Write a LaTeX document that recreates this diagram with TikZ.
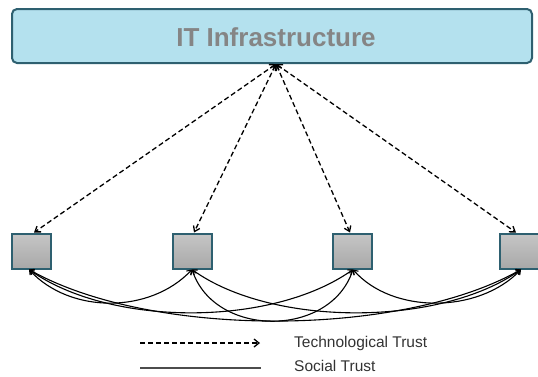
\documentclass[tikz,border=0pt]{standalone}
\usepackage{fontspec}
\setmainfont{Liberation Sans}
\usetikzlibrary{arrows.meta}
\definecolor{infrafill}{HTML}{B4E1EE}
\definecolor{tealedge}{HTML}{2E6070}
\definecolor{titlegray}{HTML}{858585}
\definecolor{legendtext}{HTML}{333333}
\tikzset{
  infra/.style={draw=tealedge, line width=2pt, fill=infrafill, rounded corners=5pt,
    minimum width=520pt, minimum height=54pt, inner sep=0pt},
  peer/.style={draw=tealedge, line width=2pt, top color=gray!45, bottom color=gray!68,
    minimum width=39pt, minimum height=35pt, inner sep=0pt},
  techtrust/.style={dashed, dash pattern=on 5pt off 3pt, line width=1.3pt,
    {Straight Barb[length=5pt,width=7pt]}-{Straight Barb[length=5pt,width=7pt]}},
  socialtrust/.style={line width=1.1pt,
    {Straight Barb[length=4pt,width=6pt]}-{Straight Barb[length=4pt,width=6pt]}},
  legtext/.style={anchor=west, text=legendtext, font=\fontsize{15.5}{17}\selectfont, inner sep=0pt}
}
\begin{document}
\begin{tikzpicture}[x=1pt,y=-1pt]
\useasboundingbox (0,0) rectangle (538,376);
\fill[white] (0,0) rectangle (538,376);
% top box
\node[infra] (top) at (272,36) {};
\node[text=titlegray, font=\bfseries\fontsize{26}{28}\selectfont] (title) at (276,37) {IT Infrastructure};
\coordinate (hub) at (276,64);
% peers
\node[peer] (b1) at (31,251) {};
\node[peer] (b2) at (192,251) {};
\node[peer] (b3) at (352,251) {};
\node[peer] (b4) at (519,251) {};
% technological trust
\draw[techtrust] (hub) -- ([xshift=3pt]b1.north);
\draw[techtrust] (hub) -- ([xshift=2pt]b2.north);
\draw[techtrust] (hub) -- ([xshift=-2pt]b3.north);
\draw[techtrust] (hub) -- ([xshift=-3pt]b4.north);
% social trust
\coordinate (s1) at ([xshift=-2pt]b1.south);
\coordinate (s2) at (b2.south);
\coordinate (s3) at ([xshift=1pt]b3.south);
\coordinate (s4) at ([xshift=2pt]b4.south);
\draw[socialtrust] (s1) .. controls (70,314) and (150,314) .. (s2);
\draw[socialtrust] (s3) .. controls (392,314) and (478,314) .. (s4);
\draw[socialtrust] (s1) .. controls (110,327) and (272,327) .. (s3);
\draw[socialtrust] (s2) .. controls (272,327) and (440,327) .. (s4);
\draw[socialtrust] (s2) .. controls (215,338) and (330,338) .. (s3);
\draw[socialtrust] (s1) .. controls (150,338) and (400,338) .. (s4);
% legend
\coordinate (la) at (140,343);
\coordinate (lb) at (260,343);
\coordinate (lc) at (140,368);
\coordinate (ld) at (261,368);
\draw[dashed, dash pattern=on 5pt off 3pt, line width=1.3pt, -{Straight Barb[length=5pt,width=8pt]}] (la) -- (lb);
\draw[line width=2.4pt, draw=black!70] (lc) -- (ld);
\node[legtext] (lt1) at (294,343) {Technological Trust};
\node[legtext] (lt2) at (294,366) {Social Trust};
\end{tikzpicture}
\end{document}
